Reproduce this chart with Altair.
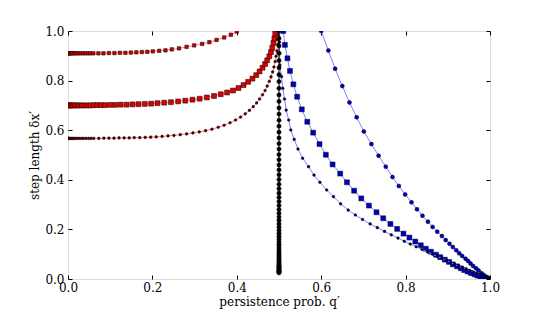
import altair as alt
import pandas as pd

# ---- data ----
# red branch, top curve
r1_q = [0.0, 0.001, 0.003, 0.005, 0.008, 0.011, 0.015, 0.019, 0.024, 0.029, 0.035, 0.041,
        0.047, 0.053, 0.060, 0.072, 0.084, 0.097, 0.110, 0.123, 0.136, 0.149, 0.162, 0.175,
        0.188, 0.201, 0.216, 0.231, 0.246, 0.263, 0.281, 0.299, 0.318, 0.335, 0.352, 0.370,
        0.386, 0.400, 0.412]
r1_y = [0.910, 0.910, 0.910, 0.910, 0.910, 0.910, 0.910, 0.910, 0.910, 0.910, 0.910, 0.910,
        0.910, 0.910, 0.910, 0.910, 0.910, 0.911, 0.911, 0.912, 0.912, 0.913, 0.914, 0.915,
        0.916, 0.918, 0.920, 0.922, 0.926, 0.930, 0.936, 0.942, 0.948, 0.955, 0.964, 0.974,
        0.985, 0.998, 1.012]
# red branch, middle curve
r2_q = [0.0, 0.001, 0.003, 0.006, 0.009, 0.013, 0.017, 0.022, 0.027, 0.033, 0.039, 0.046,
        0.053, 0.061, 0.069, 0.078, 0.087, 0.0995, 0.112, 0.125, 0.139, 0.153, 0.167, 0.182,
        0.197, 0.212, 0.228, 0.244, 0.261, 0.278, 0.295, 0.312, 0.329, 0.346, 0.362, 0.377,
        0.391, 0.404, 0.416, 0.427, 0.437, 0.446, 0.454, 0.461, 0.467, 0.472, 0.477, 0.481,
        0.484, 0.487, 0.489, 0.491, 0.493]
r2_y = [0.700, 0.700, 0.700, 0.700, 0.700, 0.700, 0.700, 0.700, 0.700, 0.700, 0.700, 0.700,
        0.700, 0.701, 0.701, 0.701, 0.701, 0.702, 0.702, 0.703, 0.703, 0.704, 0.705, 0.706,
        0.707, 0.709, 0.711, 0.713, 0.716, 0.719, 0.723, 0.727, 0.732, 0.738, 0.745, 0.752,
        0.760, 0.770, 0.782, 0.795, 0.808, 0.822, 0.837, 0.852, 0.867, 0.882, 0.898, 0.915,
        0.932, 0.952, 0.970, 0.990, 1.010]
# red branch, bottom curve
r3_q = [0.0, 0.001, 0.003, 0.005, 0.008, 0.011, 0.014, 0.018, 0.022, 0.027, 0.032, 0.037,
        0.043, 0.049, 0.055, 0.061, 0.073, 0.085, 0.097, 0.109, 0.121, 0.133, 0.145, 0.157,
        0.170, 0.183, 0.196, 0.209, 0.223, 0.237, 0.251, 0.266, 0.281, 0.296, 0.311, 0.326,
        0.341, 0.356, 0.370, 0.384, 0.397, 0.409, 0.420, 0.430, 0.439, 0.447, 0.454, 0.461,
        0.467, 0.472, 0.477, 0.481, 0.485, 0.488, 0.491, 0.493, 0.495, 0.497, 0.498, 0.499,
        0.4995]
r3_y = [0.567, 0.567, 0.567, 0.567, 0.567, 0.567, 0.567, 0.567, 0.567, 0.567, 0.567, 0.567,
        0.567, 0.567, 0.567, 0.567, 0.567, 0.568, 0.568, 0.568, 0.569, 0.569, 0.569, 0.570,
        0.570, 0.571, 0.572, 0.573, 0.575, 0.577, 0.579, 0.582, 0.585, 0.589, 0.593, 0.598,
        0.604, 0.612, 0.620, 0.630, 0.641, 0.653, 0.666, 0.680, 0.695, 0.710, 0.726, 0.743,
        0.760, 0.778, 0.797, 0.815, 0.835, 0.855, 0.877, 0.898, 0.920, 0.945, 0.965, 0.985,
        1.005]
# blue branch, top curve
b1_q = [0.596, 0.600, 0.617, 0.633, 0.650, 0.667, 0.684, 0.701, 0.719, 0.736, 0.753, 0.769,
        0.784, 0.799, 0.814, 0.827, 0.840, 0.853, 0.864, 0.875, 0.886, 0.895, 0.904, 0.912,
        0.920, 0.927, 0.934, 0.942, 0.948, 0.954, 0.960, 0.967, 0.973, 0.980, 0.985, 0.990,
        0.995, 1.0]
b1_y = [1.015, 1.000, 0.921, 0.848, 0.778, 0.712, 0.652, 0.595, 0.544, 0.497, 0.453, 0.411,
        0.375, 0.341, 0.309, 0.281, 0.255, 0.231, 0.210, 0.191, 0.173, 0.157, 0.142, 0.129,
        0.116, 0.104, 0.093, 0.082, 0.073, 0.062, 0.052, 0.043, 0.034, 0.023, 0.016, 0.010,
        0.005, 0.0]
# blue branch, middle curve
b2_q = [0.508, 0.510, 0.514, 0.520, 0.526, 0.534, 0.543, 0.554, 0.567, 0.581, 0.596, 0.611,
        0.627, 0.645, 0.661, 0.678, 0.695, 0.713, 0.731, 0.747, 0.764, 0.780, 0.795, 0.809,
        0.823, 0.836, 0.848, 0.860, 0.872, 0.882, 0.893, 0.903, 0.912, 0.922, 0.931, 0.939,
        0.947, 0.955, 0.963, 0.970, 0.977, 0.984, 0.990, 0.995, 1.0]
b2_y = [1.010, 1.000, 0.944, 0.890, 0.839, 0.785, 0.735, 0.684, 0.634, 0.590, 0.544, 0.501,
        0.462, 0.425, 0.390, 0.356, 0.325, 0.296, 0.269, 0.245, 0.222, 0.202, 0.183, 0.167,
        0.151, 0.136, 0.122, 0.110, 0.098, 0.088, 0.078, 0.069, 0.059, 0.051, 0.043, 0.036,
        0.030, 0.024, 0.019, 0.014, 0.010, 0.006, 0.003, 0.001, 0.0]
# blue branch, bottom curve
b3_q = [0.5005, 0.501, 0.5015, 0.502, 0.506, 0.509, 0.513, 0.517, 0.523, 0.528, 0.536, 0.545,
        0.556, 0.570, 0.583, 0.597, 0.613, 0.629, 0.646, 0.664, 0.681, 0.698, 0.716, 0.733,
        0.750, 0.766, 0.782, 0.797, 0.811, 0.825, 0.839, 0.852, 0.864, 0.875, 0.886, 0.897,
        0.907, 0.916, 0.926, 0.935, 0.944, 0.953, 0.961, 0.969, 0.977, 0.984, 0.990, 0.995, 1.0]
b3_y = [1.010, 0.955, 0.910, 0.863, 0.816, 0.769, 0.726, 0.681, 0.641, 0.601, 0.563, 0.524,
        0.487, 0.453, 0.419, 0.390, 0.359, 0.332, 0.303, 0.278, 0.258, 0.240, 0.222, 0.207,
        0.192, 0.178, 0.165, 0.152, 0.141, 0.130, 0.119, 0.109, 0.100, 0.091, 0.083, 0.074,
        0.066, 0.059, 0.052, 0.045, 0.039, 0.033, 0.027, 0.021, 0.016, 0.011, 0.006, 0.003, 0.0]
# black points at q' = 0.5
k_y = [0.025, 0.027, 0.029, 0.031, 0.034, 0.037, 0.040, 0.043, 0.047, 0.051, 0.055, 0.060,
       0.065, 0.070, 0.076, 0.082, 0.089, 0.096, 0.104, 0.112, 0.121, 0.130, 0.140, 0.150,
       0.161, 0.172, 0.184, 0.196, 0.209, 0.222, 0.236, 0.250, 0.265, 0.280, 0.296, 0.312,
       0.329, 0.346, 0.364, 0.382, 0.401, 0.420, 0.440, 0.460, 0.481, 0.502, 0.524, 0.546,
       0.569, 0.592, 0.616, 0.640, 0.665, 0.690, 0.716, 0.742, 0.769, 0.796, 0.824, 0.852,
       0.881, 0.910, 0.940, 0.970, 1.0]
k_q = [0.5] * len(k_y)

x_ticks = [0.0, 0.2, 0.4, 0.6, 0.8, 1.0]
y_ticks = [0.0, 0.2, 0.4, 0.6, 0.8, 1.0]

FONT = "DejaVu Serif"
xs = alt.Scale(domain=[0, 1], nice=False, zero=False)
ys = alt.Scale(domain=[0, 1], nice=False, zero=False)


def curve(qs, vs, line_color, fill, shape, size):
    df = pd.DataFrame({"q": qs, "v": vs})
    base = alt.Chart(df)
    ln = base.mark_line(color=line_color, strokeWidth=1, clip=True).encode(
        x=alt.X("q:Q", scale=xs, axis=None),
        y=alt.Y("v:Q", scale=ys, axis=None),
        order=alt.Order("q:Q"),
    )
    pt = base.mark_point(filled=True, fill=fill, stroke="#000000", strokeWidth=0.5,
                         opacity=1, shape=shape, size=size, clip=True).encode(
        x=alt.X("q:Q", scale=xs, axis=None), y=alt.Y("v:Q", scale=ys, axis=None))
    return [ln, pt]


RL = "#ff8080"
BL = "#8080ff"
layers = []
layers += curve(r1_q, r1_y, RL, "#cc0000", "square", 12)
layers += curve(r2_q, r2_y, RL, "#dd0000", "square", 24)
layers += curve(r3_q, r3_y, RL, "#660000", "circle", 7)
layers += curve(b1_q, b1_y, BL, "#0000cc", "circle", 16)
layers += curve(b2_q, b2_y, BL, "#0000cc", "square", 24)
layers += curve(b3_q, b3_y, BL, "#000055", "circle", 7)
layers += curve(k_q, k_y, "#000000", "#000000", "circle", 18)

# axes (inward ticks on all four sides)
axdf = pd.DataFrame({"q": [0.0, 1.0], "v": [0.0, 1.0]})
common = dict(domain=False, tickSize=4, offset=-4, tickColor="#000000", tickWidth=1,
              labelFont=FONT, labelFontSize=12, labelColor="#000000", labelFlush=False,
              labelOverlap=False,
              titleFont=FONT, titleFontSize=12, titleFontWeight="normal", titleColor="#000000",
              grid=False)
ax_bottom = alt.Chart(axdf).mark_point(opacity=0).encode(
    x=alt.X("q:Q", scale=xs, title="persistence prob. q′",
            axis=alt.Axis(orient="bottom", values=x_ticks, format=".1f", labelPadding=3,
                          titlePadding=3, **common)),
    y=alt.Y("v:Q", scale=ys, title="step length δx′",
            axis=alt.Axis(orient="left", values=y_ticks, format=".1f", labelPadding=4,
                          titlePadding=3, **common)),
)
ax_top = alt.Chart(axdf).mark_point(opacity=0).encode(
    x=alt.X("q:Q", scale=xs, title=None,
            axis=alt.Axis(orient="top", values=x_ticks, labels=False, **common)),
    y=alt.Y("v:Q", scale=ys, title=None,
            axis=alt.Axis(orient="right", values=y_ticks, labels=False, **common)),
)

chart = alt.layer(*layers, ax_bottom, ax_top).resolve_axis(
    x="independent", y="independent"
).properties(
    width=422, height=248,
    padding={"left": 60, "top": 23, "right": 20, "bottom": 30},
    autosize=alt.AutoSizeParams(type="none"),
).configure_view(stroke="#000000", strokeWidth=1).configure(background="#ffffff")

chart.save("out.html", embed_options={"renderer": "svg", "actions": False})
